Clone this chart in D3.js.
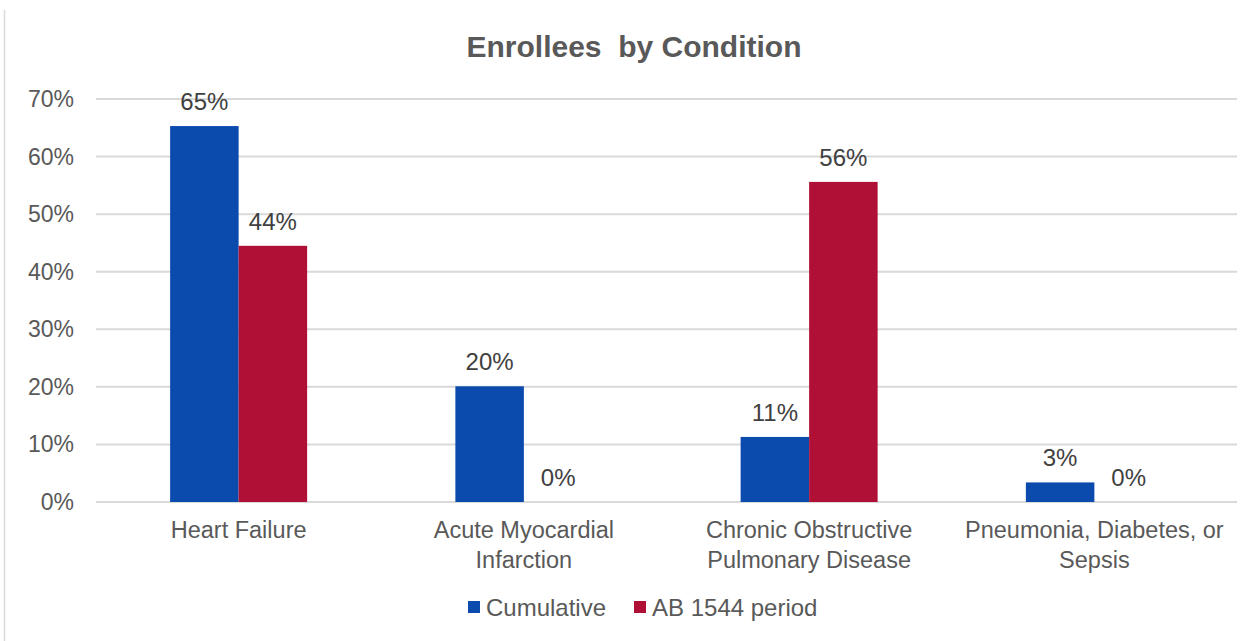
<!DOCTYPE html>
<html><head><meta charset="utf-8">
<script src="https://cdn.jsdelivr.net/npm/d3@7"></script>
<style>body{margin:0;background:#fff;} text{font-family:"Liberation Sans",Arial,sans-serif;}</style>
</head><body><svg id="c" width="1258" height="641"></svg>
<script>
const categories = [["Heart Failure"],["Acute Myocardial","Infarction"],["Chronic Obstructive","Pulmonary Disease"],["Pneumonia, Diabetes, or","Sepsis"]];
const seriesNames = ["Cumulative","AB 1544 period"];
const cumulative = [65.3, 20.1, 11.3, 3.4];
const ab1544 = [44.5, 0, 55.6, 0];
const labelsCum = ["65%","20%","11%","3%"];
const labelsAB = ["44%","0%","56%","0%"];
const yTicks = [0,10,20,30,40,50,60,70];
const colors = ["#0B4BAD","#B01035"];

const svg = d3.select("#c");
svg.append("line").attr("x1",4.5).attr("x2",4.5).attr("y1",10).attr("y2",641).attr("stroke","#d9d9d9").attr("stroke-width",1.5);

const x = d3.scaleBand().domain(d3.range(categories.length)).range([96,1237]).paddingInner(0).paddingOuter(0);
const xs = d3.scaleBand().domain([0,1]).range([0,x.bandwidth()]).paddingInner(0).paddingOuter(1.082);
const y = d3.scaleLinear().domain([0,70]).range([502,99]);

svg.append("g").selectAll("line").data(yTicks).join("line")
  .attr("x1",96).attr("x2",1237).attr("y1",d=>y(d)).attr("y2",d=>y(d))
  .attr("stroke","#d9d9d9").attr("stroke-width",2);

svg.append("g").selectAll("text").data(yTicks).join("text")
  .attr("x",74).attr("y",d=>y(d)+8).attr("text-anchor","end")
  .attr("font-size",23).attr("fill","#595959").text(d=>d+"%");

svg.append("text").attr("x",634).attr("y",57).attr("text-anchor","middle")
  .attr("font-size",30).attr("font-weight","bold").attr("fill","#595959").attr("xml:space","preserve").text("Enrollees  by Condition");

const series = [cumulative, ab1544];
const labels = [labelsCum, labelsAB];
series.forEach((vals,s)=>{
  const g = svg.append("g");
  g.selectAll("rect").data(vals).join("rect")
    .attr("x",(d,i)=>x(i)+xs(s)).attr("width",xs.bandwidth())
    .attr("y",d=>y(d)).attr("height",d=>y(0)-y(d)).attr("fill",colors[s]);
  g.selectAll("text").data(vals).join("text")
    .attr("x",(d,i)=>x(i)+xs(s)+xs.bandwidth()/2).attr("y",d=>y(d)-16)
    .attr("text-anchor","middle").attr("font-size",24).attr("fill","#404040")
    .text((d,i)=>labels[s][i]);
});

const cl = svg.append("g").selectAll("text").data(categories).join("text")
  .attr("text-anchor","middle").attr("font-size",23.5).attr("fill","#595959");
cl.each(function(lines,i){
  d3.select(this).selectAll("tspan").data(lines).join("tspan")
    .attr("x",x(i)+x.bandwidth()/2).attr("y",(d,j)=>538+j*30).text(d=>d);
});

const legendItems = [{name:seriesNames[0],c:colors[0],x:468},{name:seriesNames[1],c:colors[1],x:634}];
const lg = svg.append("g");
legendItems.forEach(it=>{
  lg.append("rect").attr("x",it.x).attr("y",601).attr("width",12).attr("height",12).attr("fill",it.c);
  lg.append("text").attr("x",it.x+18).attr("y",616).attr("font-size",24).attr("fill","#595959").text(it.name);
});
</script></body></html>
